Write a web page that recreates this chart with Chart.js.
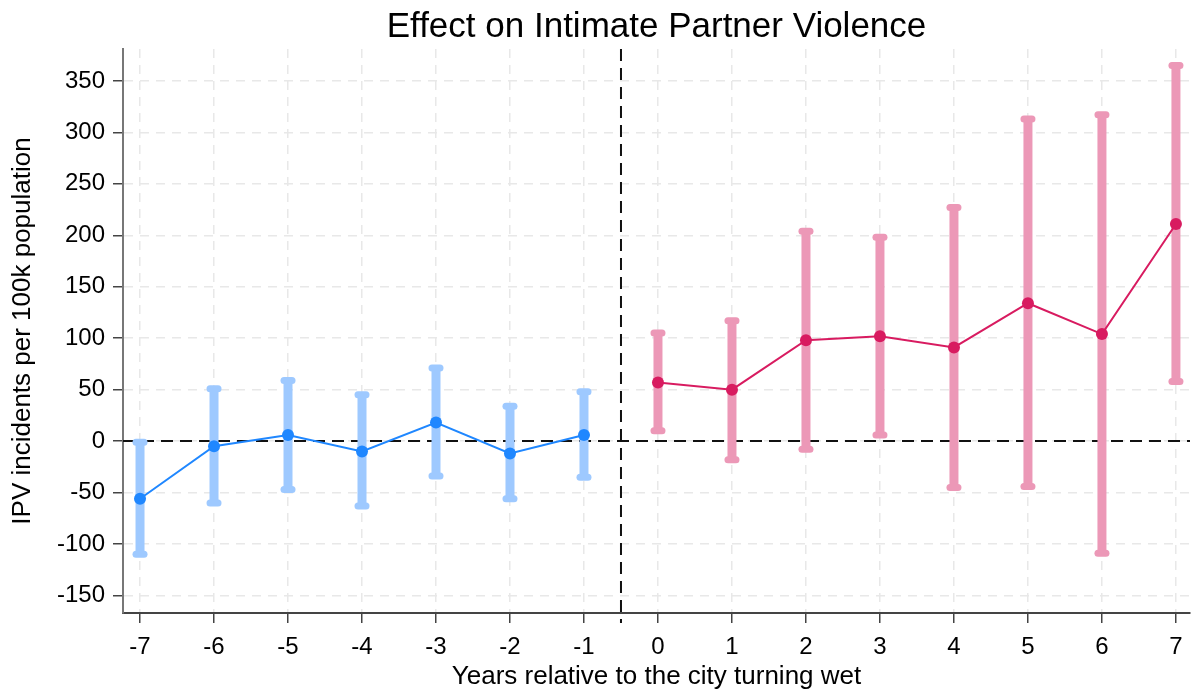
<!DOCTYPE html>
<html>
<head>
<meta charset="utf-8">
<script src="https://cdn.jsdelivr.net/npm/chart.js@4.4.1/dist/chart.umd.min.js"></script>
<style>
  html, body { margin: 0; padding: 0; background: #fff; }
  #wrap { width: 1203px; height: 692px; }
</style>
</head>
<body>
<div id="wrap"><canvas id="ipv" width="1203" height="692"></canvas></div>
<script>
// years relative to the city turning wet
const preYears = [-7, -6, -5, -4, -3, -2, -1];
const postYears = [0, 1, 2, 3, 4, 5, 6, 7];

// point estimates and 95% CI bounds
const preEst = [-56, -5, 6, -10, 18, -12, 6];
const preLo = [-110, -60, -47, -63, -34, -56, -35];
const preHi = [-1, 51, 59, 45, 71, 34, 48];

const postEst = [57, 50, 98, 102, 91, 134, 104, 211];
const postLo = [10, -18, -8, 6, -45, -44, -109, 58];
const postHi = [105, 117, 204, 198, 227, 313, 317, 365];

const xTicks = [-7, -6, -5, -4, -3, -2, -1, 0, 1, 2, 3, 4, 5, 6, 7];
const yTicks = [-150, -100, -50, 0, 50, 100, 150, 200, 250, 300, 350];

const blue = '#1f87ff';
const blueCI = '#9ec9ff';
const pink = '#d81b60';
const pinkCI = '#ec98b7';

const ciSets = [
  { xs: preYears, lo: preLo, hi: preHi, color: blueCI },
  { xs: postYears, lo: postLo, hi: postHi, color: pinkCI }
];

// reference lines + CI bars, drawn under the series
const ciPlugin = {
  id: 'ciBars',
  beforeDatasetsDraw(chart) {
    const { ctx, chartArea, scales: { x, y } } = chart;
    ctx.save();
    // zero line
    ctx.strokeStyle = '#111';
    ctx.lineWidth = 2;
    ctx.setLineDash([12, 7]);
    const y0 = y.getPixelForValue(0);
    ctx.beginPath();
    ctx.moveTo(chartArea.left, y0);
    ctx.lineTo(chartArea.right, y0);
    ctx.stroke();
    // treatment line
    const xv = x.getPixelForValue(-0.5);
    ctx.beginPath();
    ctx.moveTo(xv, chartArea.top);
    ctx.lineTo(xv, chartArea.bottom + 10);
    ctx.stroke();
    ctx.setLineDash([]);

    ciSets.forEach(s => {
      ctx.strokeStyle = s.color;
      s.xs.forEach((v, i) => {
        const px = x.getPixelForValue(v);
        const pLo = y.getPixelForValue(s.lo[i]);
        const pHi = y.getPixelForValue(s.hi[i]);
        ctx.lineWidth = 9;
        ctx.lineCap = 'butt';
        ctx.beginPath();
        ctx.moveTo(px, pLo);
        ctx.lineTo(px, pHi);
        ctx.stroke();
        ctx.lineWidth = 7;
        ctx.lineCap = 'round';
        [pLo, pHi].forEach(py => {
          ctx.beginPath();
          ctx.moveTo(px - 4, py);
          ctx.lineTo(px + 4, py);
          ctx.stroke();
        });
      });
    });
    ctx.restore();
  }
};

const font = 'Liberation Sans, Arial, Helvetica, sans-serif';

const config = {
  type: 'scatter',
  data: {
    datasets: [
      {
        label: 'pre',
        data: preYears.map((v, i) => ({ x: v, y: preEst[i] })),
        showLine: true,
        borderColor: blue,
        backgroundColor: blue,
        borderWidth: 2,
        pointRadius: 6,
        pointBorderWidth: 0
      },
      {
        label: 'post',
        data: postYears.map((v, i) => ({ x: v, y: postEst[i] })),
        showLine: true,
        borderColor: pink,
        backgroundColor: pink,
        borderWidth: 2,
        pointRadius: 6,
        pointBorderWidth: 0
      }
    ]
  },
  options: {
    responsive: false,
    animation: false,
    layout: { padding: { left: 0, right: 13, top: 0, bottom: 0 } },
    scales: {
      x: {
        type: 'linear',
        min: -7.23,
        max: 7.19,
        afterBuildTicks: (scale) => { scale.ticks = xTicks.map(v => ({ value: v })); },
        afterFit: (scale) => { scale.height = 79; },
        grid: { color: '#e8e8e8', lineWidth: 1.5, tickLength: 10, tickColor: '#444', tickWidth: 1.5 },
        border: { color: '#444', width: 2, dash: [9, 7] },
        ticks: { color: '#000', font: { family: font, size: 24 }, padding: 10 },
        title: {
          display: true,
          text: 'Years relative to the city turning wet',
          color: '#000',
          font: { family: font, size: 26 },
          padding: { top: 0, bottom: 0 }
        }
      },
      y: {
        min: -167,
        max: 381,
        afterBuildTicks: (scale) => { scale.ticks = yTicks.map(v => ({ value: v })); },
        afterFit: (scale) => { scale.width = 123; },
        grid: { color: '#e8e8e8', lineWidth: 1.5, tickLength: 10, tickColor: '#444', tickWidth: 1.5 },
        border: { color: '#777', width: 2, dash: [9, 7] },
        ticks: { color: '#000', font: { family: font, size: 24 }, padding: 8 },
        title: {
          display: true,
          text: 'IPV incidents per 100k population',
          color: '#000',
          font: { family: font, size: 26 },
          padding: { top: 7, bottom: 0 }
        }
      }
    },
    plugins: {
      legend: { display: false },
      tooltip: { enabled: false },
      title: {
        display: true,
        fullSize: false,
        text: 'Effect on Intimate Partner Violence',
        color: '#000',
        font: { family: font, size: 35, weight: 'normal' },
        padding: { top: 6, bottom: 1 }
      }
    }
  },
  plugins: [ciPlugin]
};

new Chart('ipv', config);
</script>
</body>
</html>
